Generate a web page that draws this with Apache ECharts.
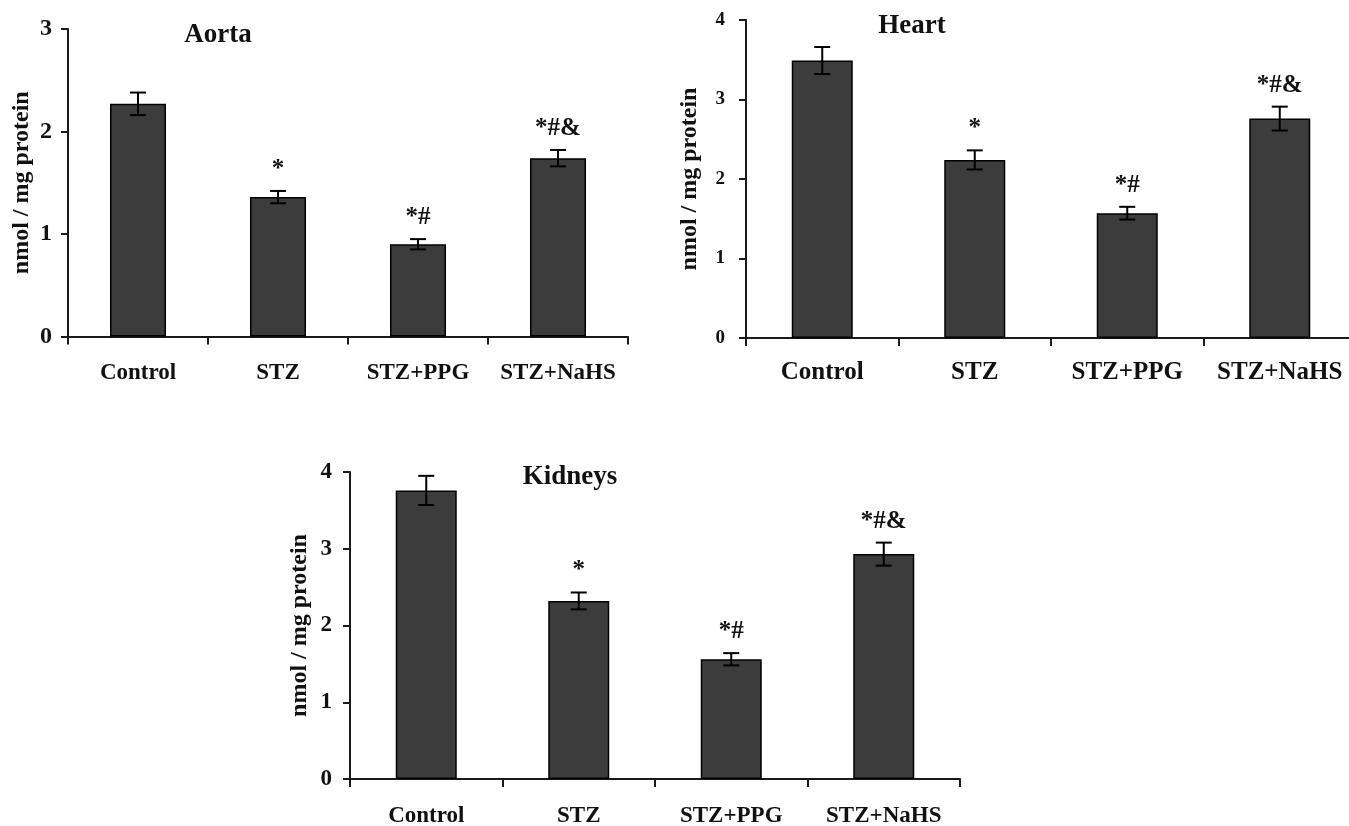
<!DOCTYPE html>
<html>
<head>
<meta charset="utf-8">
<script src="https://cdn.jsdelivr.net/npm/echarts@6/dist/echarts.min.js"></script>
<style>
html,body{margin:0;padding:0;background:#fff;}
#chart{width:1349px;height:826px;}
</style>
</head>
<body>
<div id="chart"></div>
<script>
const categories = ['Control', 'STZ', 'STZ+PPG', 'STZ+NaHS'];
const annotations = ['', '*', '*#', '*#&'];
const aortaValues = [2.27, 1.36, 0.90, 1.74];
const aortaErrors = [0.11, 0.06, 0.05, 0.08];
const heartValues = [3.49, 2.24, 1.57, 2.76];
const heartErrors = [0.17, 0.12, 0.08, 0.15];
const kidneyValues = [3.76, 2.32, 1.56, 2.93];
const kidneyErrors = [0.19, 0.11, 0.08, 0.15];
const panelTitles = ['Aorta', 'Heart', 'Kidneys'];
const yAxisName = 'nmol / mg protein';
const yMax = [3, 4, 4];

const FONT = '"Liberation Serif", "Times New Roman", serif';
const BAR = '#3c3c3c';

const grids = [
  {left: 68, top: 29, width: 560, height: 307.5},
  {left: 746, top: 20, width: 610, height: 318},
  {left: 350, top: 472, width: 610, height: 307}
];
const titlePos = [[218, 35], [912, 26], [570, 477]];
const catFont = [23, 25, 23];
const catMargin = [25, 22, 26];
const tickFont = [24, 19, 23];
const tickMargin = [16, 21, 18];
const nameGap = [34, 44, 38];

const panels = [
  {values: aortaValues, errors: aortaErrors},
  {values: heartValues, errors: heartErrors},
  {values: kidneyValues, errors: kidneyErrors}
];

const xAxes = [], yAxes = [], series = [], graphics = [];
panels.forEach((p, i) => {
  xAxes.push({
    type: 'category', gridIndex: i, data: categories, boundaryGap: true,
    axisLine: {lineStyle: {color: '#1a1a1a', width: 2}},
    axisTick: {show: true, alignWithLabel: false, length: 8, lineStyle: {color: '#1a1a1a', width: 2}},
    axisLabel: {fontFamily: FONT, fontWeight: 'bold', fontSize: catFont[i], color: '#111', margin: catMargin[i], interval: 0}
  });
  yAxes.push({
    type: 'value', gridIndex: i, min: 0, max: yMax[i], interval: 1,
    name: yAxisName, nameLocation: 'middle', nameGap: nameGap[i], nameRotate: 90,
    nameTextStyle: {fontFamily: FONT, fontWeight: 'bold', fontSize: 24, color: '#111'},
    axisLine: {show: true, lineStyle: {color: '#1a1a1a', width: 2}},
    axisTick: {show: true, length: 7, lineStyle: {color: '#1a1a1a', width: 2}},
    axisLabel: {fontFamily: FONT, fontWeight: 'bold', fontSize: tickFont[i], color: '#111', margin: tickMargin[i]},
    splitLine: {show: false}
  });
  series.push({
    type: 'bar', xAxisIndex: i, yAxisIndex: i, data: p.values, barWidth: '40%',
    itemStyle: {color: BAR, borderColor: '#000', borderWidth: 1.5},
    silent: true, z: 2
  });
  series.push({
    type: 'custom', xAxisIndex: i, yAxisIndex: i, z: 5, silent: true,
    data: p.values.map((v, k) => [k, v, p.errors[k], k]),
    renderItem: function (params, api) {
      const x = api.value(0), v = api.value(1), e = api.value(2), k = api.value(3);
      const top = api.coord([x, v + e]);
      const bot = api.coord([x, v - e]);
      const hw = 8;
      const ls = {stroke: '#000', lineWidth: 2};
      const children = [
        {type: 'line', shape: {x1: top[0], y1: top[1], x2: bot[0], y2: bot[1]}, style: ls},
        {type: 'line', shape: {x1: top[0] - hw, y1: top[1], x2: top[0] + hw, y2: top[1]}, style: ls},
        {type: 'line', shape: {x1: bot[0] - hw, y1: bot[1], x2: bot[0] + hw, y2: bot[1]}, style: ls}
      ];
      const ann = annotations[k];
      if (ann) {
        children.push({
          type: 'text', x: top[0], y: top[1] - 9,
          style: {text: ann, textAlign: 'center', textVerticalAlign: 'bottom',
                  font: 'bold 25px ' + FONT, fill: '#111'}
        });
      }
      return {type: 'group', children: children};
    }
  });
  graphics.push({
    type: 'text', x: titlePos[i][0], y: titlePos[i][1], z: 10,
    style: {text: panelTitles[i], textAlign: 'center', textVerticalAlign: 'middle',
            font: 'bold 27px ' + FONT, fill: '#111'}
  });
});

const chart = echarts.init(document.getElementById('chart'), null, {renderer: 'canvas'});
chart.setOption({
  animation: false,
  backgroundColor: '#fff',
  grid: grids.map(g => Object.assign({outerBoundsMode: 'none', containLabel: false}, g)),
  xAxis: xAxes,
  yAxis: yAxes,
  series: series,
  graphic: graphics
});
</script>
</body>
</html>
